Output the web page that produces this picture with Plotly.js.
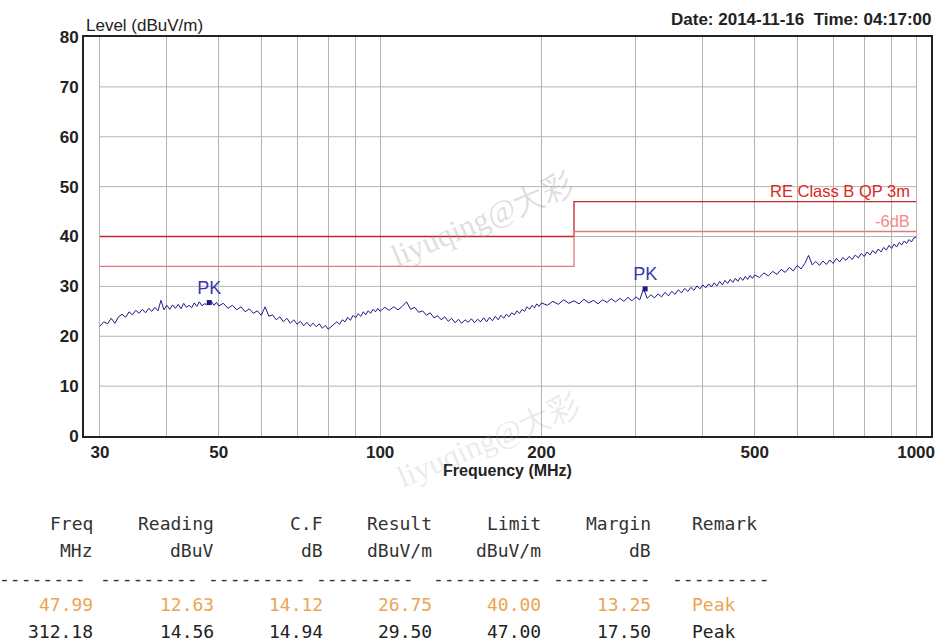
<!DOCTYPE html>
<html>
<head>
<meta charset="utf-8">
<script src="https://cdn.plot.ly/plotly-3.0.1.min.js"></script>
<style>
html,body{margin:0;padding:0;background:#fff;}
#chart{width:939px;height:643px;}
</style>
</head>
<body>
<div id="chart"></div>
<script>
// ---------- DATA ----------
const freqMHz = [
  30,30.5,31,31.5,32,32.5,33,33.5,34,34.5,35,35.5,36,36.5,37,37.5,38,38.5,39,39.5,
  40,40.5,41,41.5,42,42.5,43,43.5,44,44.5,45,45.5,46,46.5,47,47.5,48,48.5,49,49.5,
  50,51,52,53,54,55,56,57,58,59,60,61,62,63,64,65,66,67,68,69,
  70,71,72,73,74,75,76,77,78,79,80,81,82,83,84,85,86,87,88,89,
  90,91,92,93,94,95,96,97,98,99,
  100,102,104,106,108,110,112,114,116,118,120,122,124,126,128,130,132,134,136,138,
  140,142,144,146,148,150,152,154,156,158,160,162,164,166,168,170,172,174,176,178,
  180,182,184,186,188,190,192,194,196,198,
  200,205,210,215,220,225,230,235,240,245,250,255,260,265,270,275,280,285,290,295,
  300,305,310,315,320,325,330,335,340,345,350,355,360,365,370,375,380,385,390,395,
  400,405,410,415,420,425,430,435,440,445,450,455,460,465,470,475,480,485,490,495,
  500,510,520,530,540,550,560,570,580,590,600,610,620,630,640,650,660,670,680,690,
  700,710,720,730,740,750,760,770,780,790,800,810,820,830,840,850,860,870,880,890,
  900,910,920,930,940,950,960,970,980,990,1000
];
const levelDbuvm = [
  22.0,22.9,22.5,23.6,22.6,23.9,24.4,23.8,24.9,24.3,25.2,24.6,25.4,24.7,25.6,25.0,25.8,25.1,27.2,25.3,
  26.2,25.4,26.3,25.6,26.4,25.5,26.6,25.8,26.2,25.7,26.7,26.0,26.9,26.1,26.5,26.4,26.75,26.9,26.2,26.8,
  26.1,26.6,25.6,26.2,25.3,25.9,24.9,25.5,24.6,25.1,24.2,25.9,24.0,24.3,23.3,23.9,22.9,23.6,22.6,23.3,
  22.4,23.0,22.1,22.8,22.0,22.6,21.9,22.5,21.6,22.2,21.4,21.9,22.3,22.9,22.4,23.3,22.9,23.8,23.2,24.2,
  23.7,24.5,24.0,24.9,24.3,25.1,24.6,25.4,24.9,25.6,
  25.0,25.8,25.2,25.9,25.3,26.0,26.9,25.4,25.8,24.8,25.1,24.2,24.7,23.7,24.1,23.3,23.9,23.0,23.6,22.7,
  23.4,22.6,23.3,22.8,23.5,22.7,23.4,22.9,23.7,22.9,23.8,23.1,24.0,23.3,24.2,23.6,24.4,23.9,24.7,24.3,
  25.1,24.6,25.4,25.0,25.9,25.4,26.2,25.7,26.5,26.0,
  26.7,26.2,27.0,26.4,27.3,26.6,27.1,26.5,27.4,26.7,27.2,26.5,27.3,26.8,27.5,26.9,27.6,27.0,27.8,27.1,
  27.9,27.3,29.5,27.6,28.3,27.7,28.5,27.9,28.8,28.1,29.0,28.4,29.3,28.7,29.6,29.0,29.8,29.2,30.1,29.5,
  30.3,29.7,30.5,29.9,30.7,30.1,31.0,30.3,31.2,30.6,31.4,30.8,31.6,31.0,31.8,31.2,32.0,31.4,32.2,31.6,
  32.3,31.8,32.7,32.1,33.0,32.4,33.4,32.8,33.8,33.1,34.2,33.5,34.6,36.2,34.3,35.0,34.2,35.1,34.4,35.3,
  34.6,35.6,34.9,35.8,35.2,36.0,35.4,36.3,35.7,36.6,36.0,36.9,36.3,37.2,36.6,37.5,36.9,37.8,37.3,38.2,
  37.6,38.5,37.9,38.8,38.3,39.1,38.6,39.4,38.9,39.7,39.9
];

const limitFreq = [30, 230, 1000];
const limitLevel = [40, 47, 47];
const limit6Level = [34, 41, 41];
const limitName = 'RE Class B QP 3m';
const limit6Name = '-6dB';

const peakFreq = ['47.99', '312.18'];
const peakReading = ['12.63', '14.56'];
const peakCF = ['14.12', '14.94'];
const peakResult = ['26.75', '29.50'];
const peakLimit = ['40.00', '47.00'];
const peakMargin = ['13.25', '17.50'];
const peakRemark = ['Peak', 'Peak'];
const peakLabel = 'PK';

const xTickVals = [30,40,50,60,70,80,90,100,200,300,400,500,600,700,800,900,1000];
const xTickText = ['30','','50','','','','','100','200','','','500','','','','','1000'];
const yTickVals = [0,10,20,30,40,50,60,70,80];

const tableHead1 = ['Freq','Reading','C.F','Result','Limit','Margin','Remark'];
const tableHead2 = ['MHz','dBuV','dB','dBuV/m','dBuV/m','dB',''];
const tableDash  = ['--------','---------','---------','---------','----------','---------','---------'];

const yTitle = 'Level (dBuV/m)';
const xTitle = 'Frequency (MHz)';
const dateText = 'Date: 2014-11-16  Time: 04:17:00';
const watermark = 'liyuqing@大彩';

// ---------- LAYOUT HELPERS ----------
const W = 939, H = 643;
const M = {l: 84, r: 8, t: 37, b: 207};
const PW = W - M.l - M.r, PH = H - M.t - M.b;
const px2x = px => (px - M.l) / PW;
const px2y = py => (H - M.b - py) / PH;
const xr = [Math.log10(28.02), Math.log10(1066)];
const xv2paper = v => (Math.log10(v) - xr[0]) / (xr[1] - xr[0]);

const sans = 'Liberation Sans, Arial, sans-serif';
const mono = 'DejaVu Sans Mono, Liberation Mono, monospace';

const traces = [
  {x: limitFreq, y: limitLevel, mode: 'lines', line: {color: '#c0282d', width: 1.3, shape: 'hv'}, hoverinfo: 'skip'},
  {x: limitFreq, y: limit6Level, mode: 'lines', line: {color: '#e07a7a', width: 1.3, shape: 'hv'}, hoverinfo: 'skip'},
  {x: freqMHz, y: levelDbuvm, mode: 'lines', line: {color: '#1b1b86', width: 1}},
  {x: peakFreq.map(Number), y: peakResult.map(Number), mode: 'markers+text',
   marker: {symbol: 'square', size: 5, color: '#1b1b86'},
   text: peakFreq.map(() => peakLabel), textposition: 'top center',
   textfont: {family: sans, size: 18, color: '#3838b0'}}
];

const shapes = yTickVals.filter(v => v > 0 && v < 80).map(v => ({
  type: 'line', xref: 'paper', yref: 'y',
  x0: xv2paper(xTickVals[0]), x1: xv2paper(xTickVals[xTickVals.length - 1]),
  y0: v, y1: v, line: {color: '#b4b4b4', width: 1}, layer: 'below'
}));

const ann = [];
ann.push({xref: 'paper', yref: 'paper', x: 0, y: 1, xanchor: 'left', yanchor: 'bottom',
  text: yTitle, showarrow: false, font: {family: sans, size: 17, color: '#222'}});
ann.push({xref: 'paper', yref: 'paper', x: px2x(934), y: 1, xanchor: 'right', yanchor: 'bottom', yshift: 6,
  text: dateText, showarrow: false, font: {family: sans, size: 17, color: '#222', weight: 'bold'}});
ann.push({xref: 'x', yref: 'y', x: Math.log10(limitFreq[2]), y: limitLevel[2], xanchor: 'right', yanchor: 'bottom',
  xshift: -4, text: limitName, showarrow: false, font: {family: sans, size: 16.5, color: '#e02424'}});
ann.push({xref: 'x', yref: 'y', x: Math.log10(limitFreq[2]), y: limit6Level[2], xanchor: 'right', yanchor: 'bottom',
  xshift: -4, text: limit6Name, showarrow: false, font: {family: sans, size: 16.5, color: '#f08a8a'}});
// watermarks
ann.push({xref: 'paper', yref: 'paper', x: px2x(482), y: px2y(163), text: watermark, showarrow: false,
  textangle: -23, font: {family: 'Liberation Serif, serif', size: 31, color: 'rgba(160,160,160,0.35)'}});
ann.push({xref: 'paper', yref: 'paper', x: px2x(488), y: px2y(497), text: watermark, showarrow: false,
  textangle: -23, font: {family: 'Liberation Serif, serif', size: 31, color: 'rgba(160,160,160,0.22)'}});

// table
const colRight = [95, 216, 325, 434, 543, 653];
const remarkLeft = 690;
const dashRight = [88, 200, 308, 416, 543, 653, 772];
const rowY = {h1: 523, h2: 550, d: 578, r1: 604, r2: 631};
const cols = [peakFreq, peakReading, peakCF, peakResult, peakLimit, peakMargin];
const rowColors = ['#eba552', '#222222'];
function cell(px, py, txt, color, anchor) {
  ann.push({xref: 'paper', yref: 'paper', x: px2x(px), y: px2y(py), xanchor: anchor, yanchor: 'middle',
    text: txt, showarrow: false, font: {family: mono, size: 18, color: color}});
}
for (let c = 0; c < 6; c++) {
  cell(colRight[c], rowY.h1, tableHead1[c], '#333', 'right');
  if (tableHead2[c]) cell(colRight[c], rowY.h2, tableHead2[c], '#333', 'right');
  cell(colRight[c], rowY.r1, cols[c][0], rowColors[0], 'right');
  cell(colRight[c], rowY.r2, cols[c][1], rowColors[1], 'right');
}
cell(remarkLeft, rowY.h1, tableHead1[6], '#333', 'left');
cell(remarkLeft, rowY.r1, peakRemark[0], rowColors[0], 'left');
cell(remarkLeft, rowY.r2, peakRemark[1], rowColors[1], 'left');
for (let c = 0; c < 7; c++) cell(dashRight[c], rowY.d, tableDash[c], '#333', 'right');

const layout = {
  width: W, height: H,
  margin: M,
  paper_bgcolor: '#ffffff', plot_bgcolor: '#ffffff',
  showlegend: false,
  xaxis: {
    type: 'log', range: xr,
    tickvals: xTickVals, ticktext: xTickText,
    showgrid: true, gridcolor: '#b4b4b4', gridwidth: 1,
    showline: true, mirror: true, linecolor: '#222', linewidth: 2,
    ticks: '', zeroline: false,
    tickfont: {family: sans, size: 17, color: '#222', weight: 'bold'},
    title: {text: xTitle, standoff: 0, font: {family: sans, size: 16, color: '#222', weight: 'bold'}}
  },
  yaxis: {
    range: [0, 80], tickvals: yTickVals,
    showgrid: false, zeroline: false,
    showline: true, mirror: true, linecolor: '#222', linewidth: 2,
    ticks: '',
    tickfont: {family: sans, size: 17, color: '#222', weight: 'bold'}
  },
  shapes: shapes,
  annotations: ann
};

Plotly.newPlot('chart', traces, layout, {displayModeBar: false, staticPlot: true});
</script>
</body>
</html>
